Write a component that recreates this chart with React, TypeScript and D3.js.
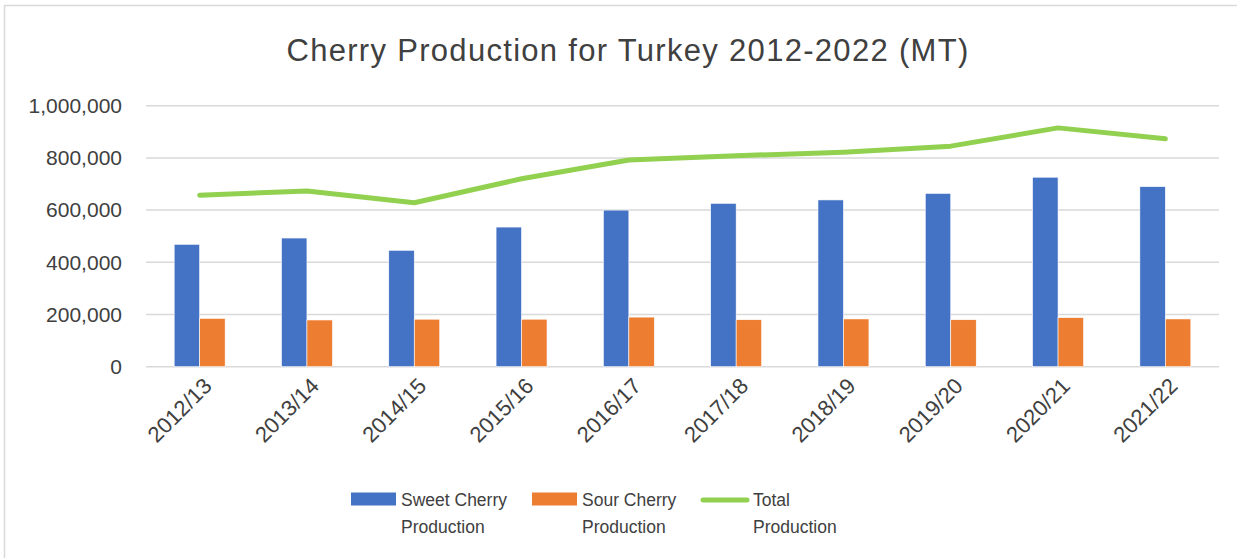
import React, { useEffect, useRef } from 'react';
import * as d3 from 'd3';

// marketing years
const years = ['2012/13', '2013/14', '2014/15', '2015/16', '2016/17', '2017/18', '2018/19', '2019/20', '2020/21', '2021/22'];
// metric tons
const sweet = [469000, 493000, 446000, 535000, 600000, 626000, 639000, 664000, 726000, 690000];
const sour = [185000, 179000, 182000, 182000, 190000, 180000, 183000, 180000, 188000, 183000];
const total = [657000, 673000, 628000, 720000, 792000, 808000, 822000, 845000, 915000, 873000];
const yTicks = [0, 200000, 400000, 600000, 800000, 1000000];

const seriesNames = ['Sweet Cherry', 'Sour Cherry'];
const colors = ['#4472c4', '#ed7d31'];
const green = '#92d050';
const font = '"Liberation Sans", Arial, sans-serif';

function App() {
  const ref = useRef<SVGSVGElement>(null);

  useEffect(() => {
    const width = 1237;
    const height = 558;
    const left = 146, right = 1219, top = 105.7, bottom = 366.7;

    const svg = d3.select(ref.current);
    svg.selectAll('*').remove();
    svg.attr('width', width).attr('height', height);

    // chart frame (only top/left edges show)
    svg.append('rect')
      .attr('x', 4.5).attr('y', 5.5)
      .attr('width', width + 10).attr('height', height + 10)
      .attr('fill', 'white')
      .attr('stroke', '#d9d9d9')
      .attr('stroke-width', 1.5);

    svg.append('text')
      .attr('x', 628).attr('y', 61)
      .attr('text-anchor', 'middle')
      .attr('font-family', font)
      .attr('font-size', 31)
      .attr('letter-spacing', 1.3)
      .attr('fill', '#404040')
      .text('Cherry Production for Turkey 2012-2022 (MT)');

    const x = d3.scaleBand()
      .domain(years)
      .range([left, right])
      .paddingInner(0.525)
      .paddingOuter(0.2625);

    const xs = d3.scaleBand()
      .domain(seriesNames)
      .range([0, x.bandwidth()]);

    const y = d3.scaleLinear().domain([0, 1000000]).range([bottom, top]);

    // gridlines
    svg.append('g')
      .selectAll('line')
      .data(yTicks)
      .enter()
      .append('line')
      .attr('x1', left).attr('x2', right)
      .attr('y1', d => y(d)).attr('y2', d => y(d))
      .attr('stroke', '#d9d9d9')
      .attr('stroke-width', 1.5);

    // y labels
    const fmt = d3.format(',');
    svg.append('g')
      .selectAll('text')
      .data(yTicks)
      .enter()
      .append('text')
      .attr('x', 122)
      .attr('y', d => y(d))
      .attr('dy', '0.35em')
      .attr('text-anchor', 'end')
      .attr('font-family', font)
      .attr('font-size', 21)
      .attr('fill', '#404040')
      .text(d => fmt(d));

    // bars
    const rows = years.map((yr, i) => ({ yr, vals: [sweet[i], sour[i]] }));
    const groups = svg.append('g')
      .selectAll('g')
      .data(rows)
      .enter()
      .append('g')
      .attr('transform', d => `translate(${x(d.yr)},0)`);

    groups.selectAll('rect')
      .data(d => d.vals.map((v, k) => ({ name: seriesNames[k], v, k })))
      .enter()
      .append('rect')
      .attr('x', d => xs(d.name)!)
      .attr('width', xs.bandwidth())
      .attr('y', d => y(d.v))
      .attr('height', d => y(0) - y(d.v))
      .attr('fill', d => colors[d.k])
      .attr('stroke', 'white')
      .attr('stroke-width', 0.6);

    // total line
    const line = d3.line<number>()
      .x((d, i) => x(years[i])! + x.bandwidth() / 2)
      .y(d => y(d));

    svg.append('path')
      .datum(total)
      .attr('d', line)
      .attr('fill', 'none')
      .attr('stroke', green)
      .attr('stroke-width', 5)
      .attr('stroke-linecap', 'round')
      .attr('stroke-linejoin', 'round');

    // x labels
    svg.append('g')
      .selectAll('text')
      .data(years)
      .enter()
      .append('text')
      .attr('transform', d => `translate(${x(d)! + x.bandwidth() / 2 + 8},${382}) rotate(-45)`)
      .attr('text-anchor', 'end')
      .attr('dy', '0.35em')
      .attr('font-family', font)
      .attr('font-size', 22)
      .attr('fill', '#404040')
      .text(d => d);

    // legend
    const leg = svg.append('g').attr('font-family', font).attr('font-size', 17.5).attr('fill', '#404040');
    const items = [
      { sx: 351, tx: 401, l1: 'Sweet Cherry', kind: 'bar', c: colors[0] },
      { sx: 532, tx: 582, l1: 'Sour Cherry', kind: 'bar', c: colors[1] },
      { sx: 701, tx: 753, l1: 'Total', kind: 'line', c: green },
    ];
    items.forEach(it => {
      if (it.kind === 'bar') {
        leg.append('rect')
          .attr('x', it.sx).attr('y', 492.5)
          .attr('width', 45).attr('height', 13)
          .attr('fill', it.c);
      } else {
        leg.append('line')
          .attr('x1', it.sx + 2).attr('x2', it.sx + 46)
          .attr('y1', 500).attr('y2', 500)
          .attr('stroke', it.c)
          .attr('stroke-width', 5)
          .attr('stroke-linecap', 'round');
      }
      leg.append('text').attr('x', it.tx).attr('y', 506).text(it.l1);
      leg.append('text').attr('x', it.tx).attr('y', 533).text('Production');
    });
  }, []);

  return (
    <div>
      <svg ref={ref} style={{ display: 'block', position: 'absolute', left: 0, top: 0 }}></svg>
    </div>
  );
}

export default App;
